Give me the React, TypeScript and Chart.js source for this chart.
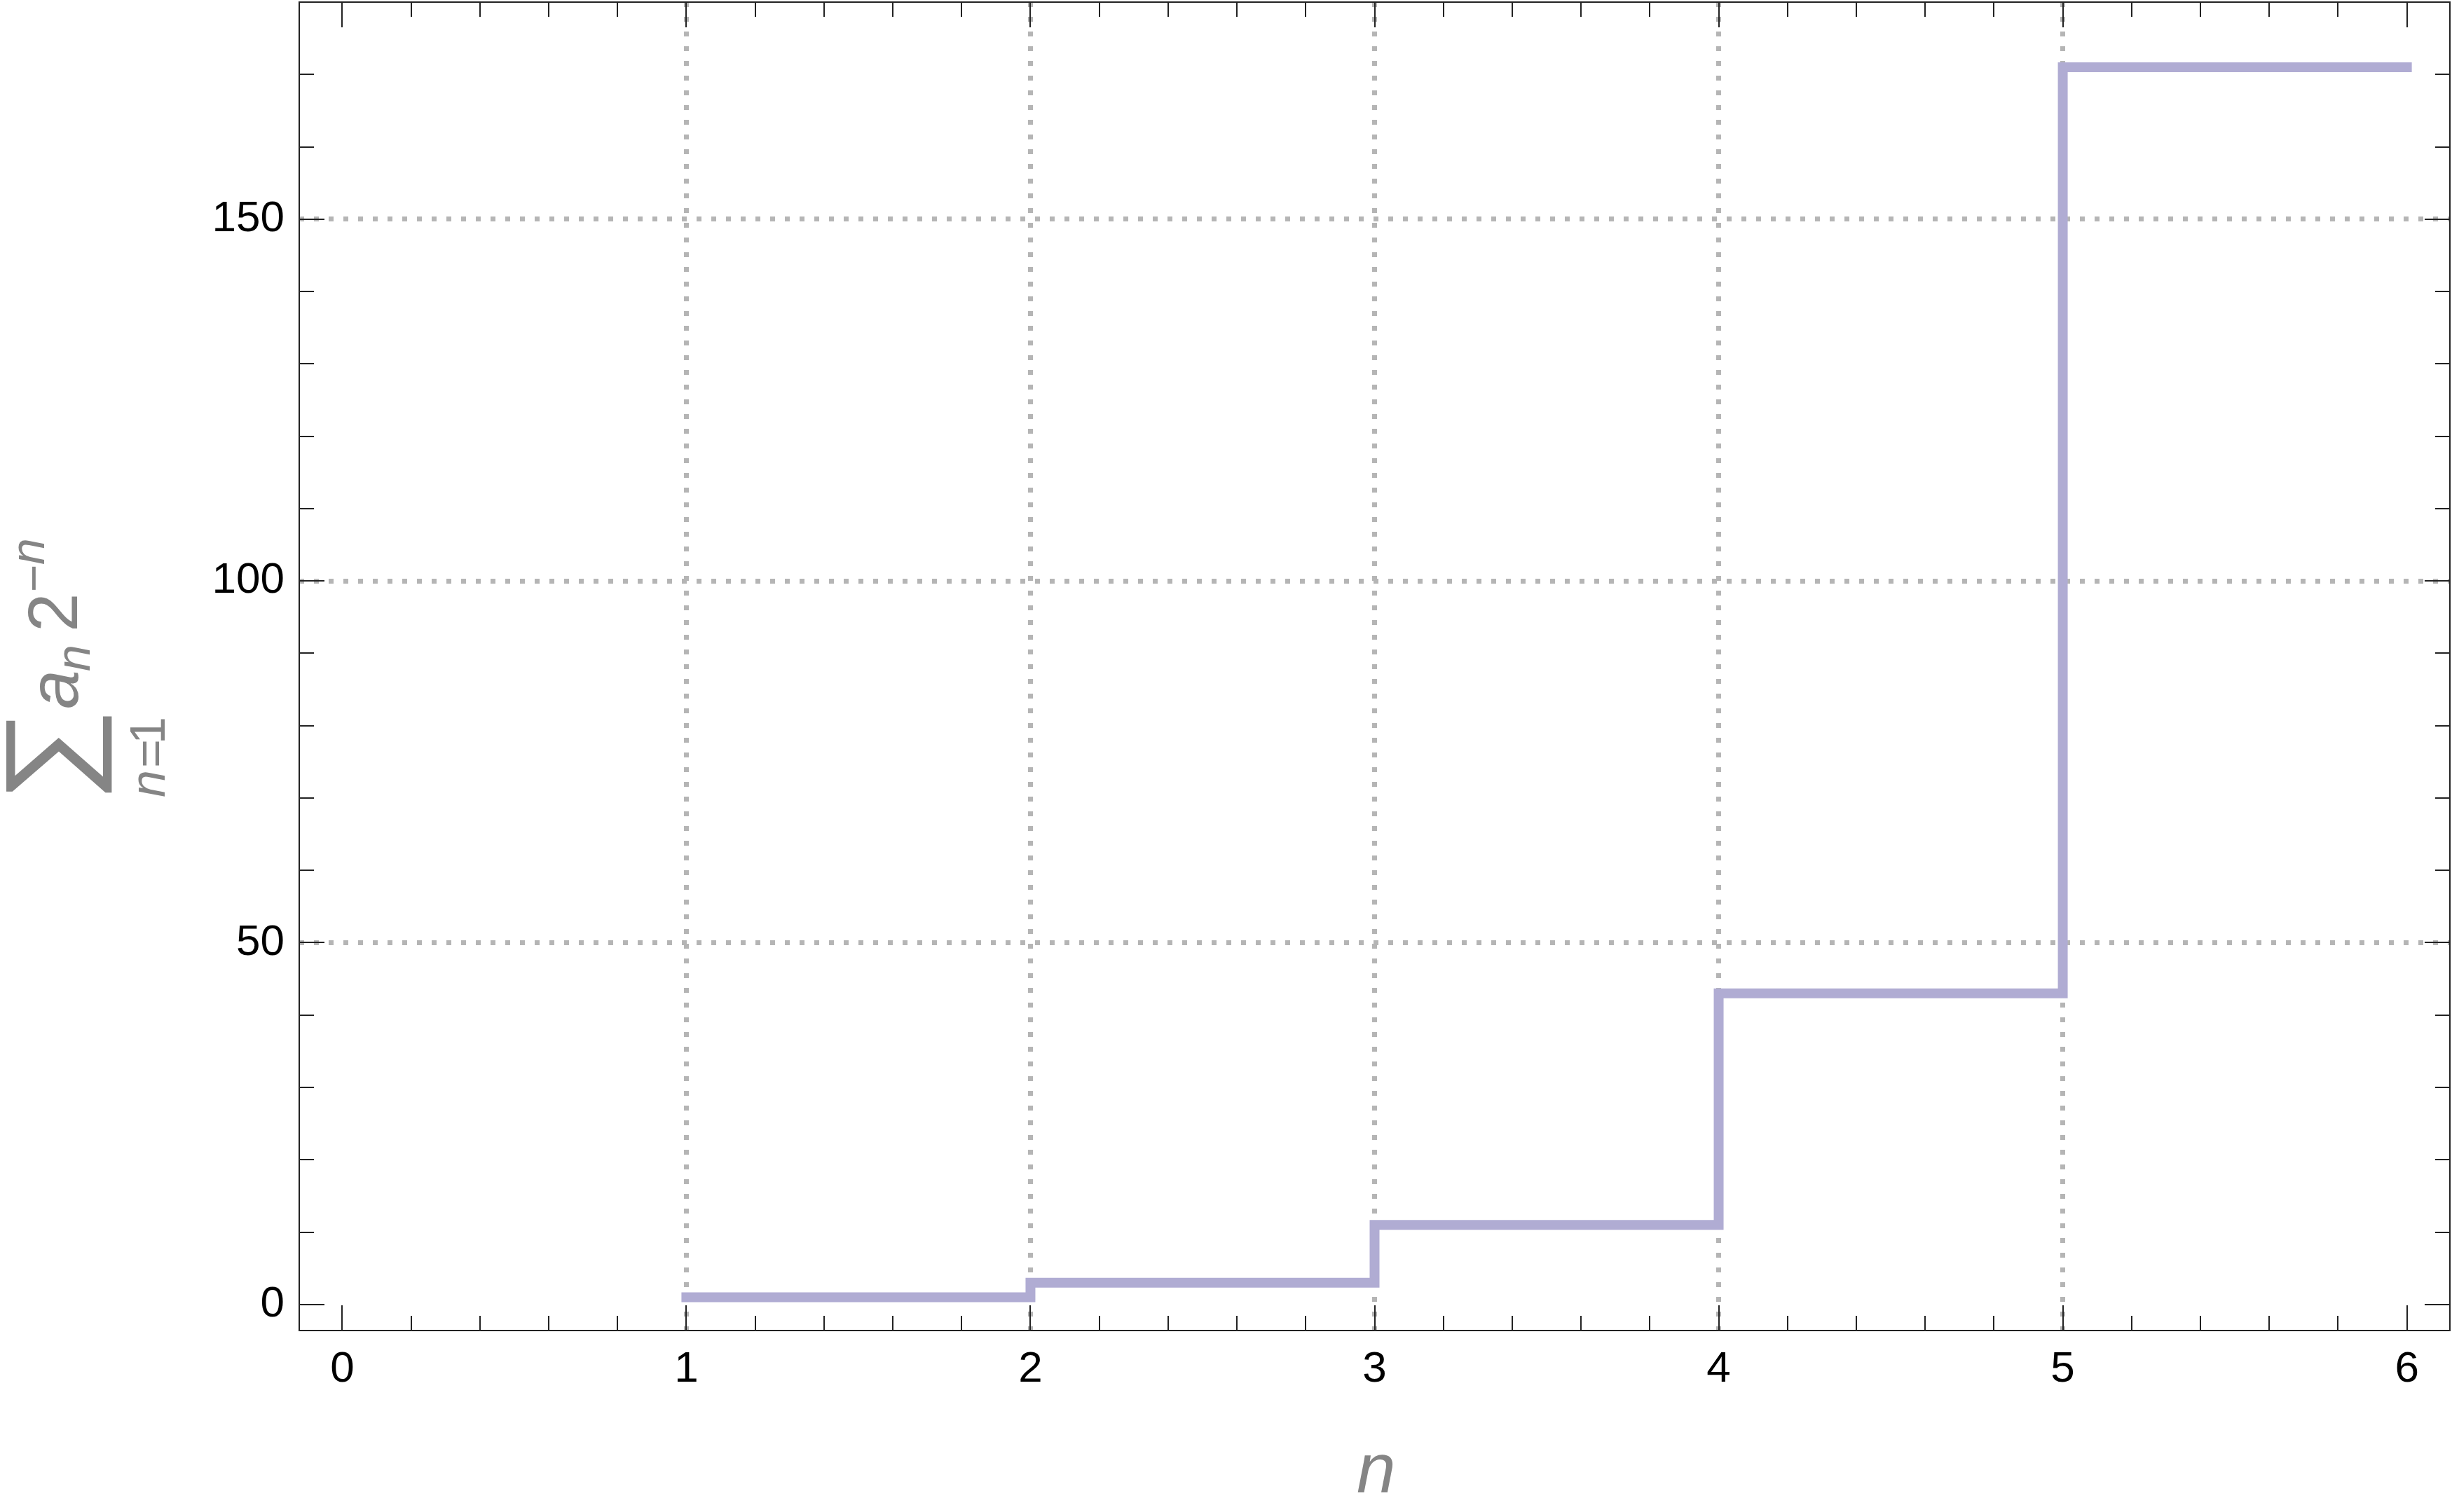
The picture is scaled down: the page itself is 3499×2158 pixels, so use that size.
import React, { useEffect, useRef } from "react";
import { Chart, registerables } from "chart.js";

Chart.register(...registerables);

// ---- data ----
const nValues = [1, 2, 3, 4, 5, 6];
const partialSums = [1, 3, 11, 43, 171, 171];

// ---- axes ----
const xTickLabels = [0, 1, 2, 3, 4, 5, 6];
const yTickLabels = [0, 50, 100, 150];
const xGridValues = [1, 2, 3, 4, 5];
const yGridValues = [50, 100, 150];
const xMinorStep = 0.2;
const yMinorStep = 10;
const xRange = [-0.125, 6.125];
const yRange = [-3.6, 180];

const W = 3499;
const H = 2158;
const FONT = '"Liberation Sans", Arial, Helvetica, sans-serif';
const LINE_COLOR = "rgb(176,172,211)";
const GRID_COLOR = "#b5b5b5";
const FRAME_COLOR = "#222222";
const TITLE_COLOR = "#858585";

function placeInk(ctx: CanvasRenderingContext2D, txt: string, font: string, left: number, bottom: number) {
  ctx.font = font;
  ctx.textAlign = "left";
  ctx.textBaseline = "alphabetic";
  const m = ctx.measureText(txt);
  ctx.fillText(txt, left + m.actualBoundingBoxLeft, bottom - m.actualBoundingBoxDescent);
}

function fitGlyph(ctx: CanvasRenderingContext2D, txt: string, font: string, left: number, top: number, w: number, h: number) {
  ctx.font = font;
  ctx.textAlign = "left";
  ctx.textBaseline = "alphabetic";
  const m = ctx.measureText(txt);
  const gw = m.actualBoundingBoxLeft + m.actualBoundingBoxRight;
  const gh = m.actualBoundingBoxAscent + m.actualBoundingBoxDescent;
  ctx.save();
  ctx.translate(left, top);
  ctx.scale(w / gw, h / gh);
  ctx.fillText(txt, m.actualBoundingBoxLeft, m.actualBoundingBoxAscent);
  ctx.restore();
}

const framePlugin = {
  id: "mmaFrame",
  afterDatasetsDraw(chart: any) {
    const { ctx, chartArea: a, scales } = chart;
    const xs = scales.x;
    const ys = scales.y;
    ctx.save();
    ctx.strokeStyle = FRAME_COLOR;
    ctx.lineWidth = 2;
    ctx.setLineDash([]);
    ctx.beginPath();
    const xTick = (v: number, len: number) => {
      const px = Math.round(xs.getPixelForValue(v));
      ctx.moveTo(px, a.bottom);
      ctx.lineTo(px, a.bottom - len);
      ctx.moveTo(px, a.top);
      ctx.lineTo(px, a.top + len);
    };
    const yTick = (v: number, len: number) => {
      const py = Math.round(ys.getPixelForValue(v));
      ctx.moveTo(a.left, py);
      ctx.lineTo(a.left + len, py);
      ctx.moveTo(a.right, py);
      ctx.lineTo(a.right - len, py);
    };
    const xMax = xTickLabels[xTickLabels.length - 1];
    for (let i = 0; xTickLabels[0] + i * xMinorStep <= xMax + 1e-9; i++) {
      const v = xTickLabels[0] + i * xMinorStep;
      const major = xTickLabels.some((t) => Math.abs(t - v) < 1e-6);
      xTick(v, major ? 36 : 21);
    }
    for (let v = 0; v <= yRange[1] + 1e-9; v += yMinorStep) {
      const major = yTickLabels.some((t) => Math.abs(t - v) < 1e-6);
      yTick(v, major ? 36 : 21);
    }
    ctx.stroke();
    ctx.strokeRect(a.left, a.top, a.right - a.left, a.bottom - a.top);
    ctx.restore();
  },
  afterDraw(chart: any) {
    const ctx: CanvasRenderingContext2D = chart.ctx;
    ctx.save();
    ctx.fillStyle = TITLE_COLOR;
    // x title
    placeInk(ctx, "n", `italic 100px ${FONT}`, 1937, 2130);
    // y title (rotated): local x' = -screenY, y' = screenX - 110
    ctx.translate(110, 0);
    ctx.rotate(-Math.PI / 2);
    fitGlyph(ctx, "\u2211", `100px ${FONT}`, -1132, -101, 110, 152);
    placeInk(ctx, "n", `italic 70px ${FONT}`, -1137, 125);
    placeInk(ctx, "=", `70px ${FONT}`, -1093, 117);
    placeInk(ctx, "1", `70px ${FONT}`, -1057, 125);
    placeInk(ctx, "a", `italic 100px ${FONT}`, -1010, 2);
    placeInk(ctx, "n", `italic 68px ${FONT}`, -957, 18);
    placeInk(ctx, "2", `100px ${FONT}`, -897, 0);
    placeInk(ctx, "\u2212", `68px ${FONT}`, -842, -59);
    placeInk(ctx, "n", `italic 68px ${FONT}`, -805, -47);
    ctx.restore();
  },
};

export default function App() {
  const canvasRef = useRef<HTMLCanvasElement | null>(null);

  useEffect(() => {
    if (!canvasRef.current) return;
    const points = nValues.map((n, i) => ({ x: n, y: partialSums[i] }));
    const chart = new Chart(canvasRef.current, {
      type: "line",
      data: {
        datasets: [
          {
            data: points,
            borderColor: LINE_COLOR,
            backgroundColor: LINE_COLOR,
            borderWidth: 14,
            borderCapStyle: "square",
            borderJoinStyle: "miter",
            stepped: "before",
            pointRadius: 0,
            fill: false,
          },
        ],
      },
      options: {
        animation: false,
        responsive: false,
        devicePixelRatio: 1,
        layout: { padding: { top: 3, right: 3, bottom: 0, left: 0 }, autoPadding: false },
        plugins: { legend: { display: false }, tooltip: { enabled: false } },
        scales: {
          x: {
            type: "linear",
            min: xRange[0],
            max: xRange[1],
            afterBuildTicks: (s: any) => {
              s.ticks = xTickLabels.map((v) => ({ value: v }));
            },
            afterFit: (s: any) => {
              s.height = H - 1899;
              s.paddingLeft = 0;
              s.paddingRight = 0;
            },
            ticks: {
              autoSkip: false,
              maxRotation: 0,
              padding: 19,
              color: "#000000",
              font: { family: FONT, size: 62 },
              callback: (v: any) => String(v),
            },
            grid: {
              color: (c: any) => (c.tick && xGridValues.includes(c.tick.value) ? GRID_COLOR : "rgba(0,0,0,0)"),
              lineWidth: 7,
              drawTicks: false,
            },
            border: { display: false, dash: [7, 14] },
          },
          y: {
            type: "linear",
            min: yRange[0],
            max: yRange[1],
            afterBuildTicks: (s: any) => {
              s.ticks = yTickLabels.map((v) => ({ value: v }));
            },
            afterFit: (s: any) => {
              s.width = 427;
              s.paddingTop = 0;
              s.paddingBottom = 0;
            },
            ticks: {
              autoSkip: false,
              padding: 21,
              color: "#000000",
              font: { family: FONT, size: 62 },
              callback: (v: any) => String(v),
            },
            grid: {
              color: (c: any) => (c.tick && yGridValues.includes(c.tick.value) ? GRID_COLOR : "rgba(0,0,0,0)"),
              lineWidth: 7,
              drawTicks: false,
            },
            border: { display: false, dash: [7, 14] },
          },
        },
      },
      plugins: [framePlugin],
    } as any);
    return () => chart.destroy();
  }, []);

  return (
    <canvas
      ref={canvasRef}
      width={W}
      height={H}
      style={{ position: "fixed", left: 0, top: 0, width: W, height: H, display: "block", background: "#ffffff" }}
    />
  );
}
